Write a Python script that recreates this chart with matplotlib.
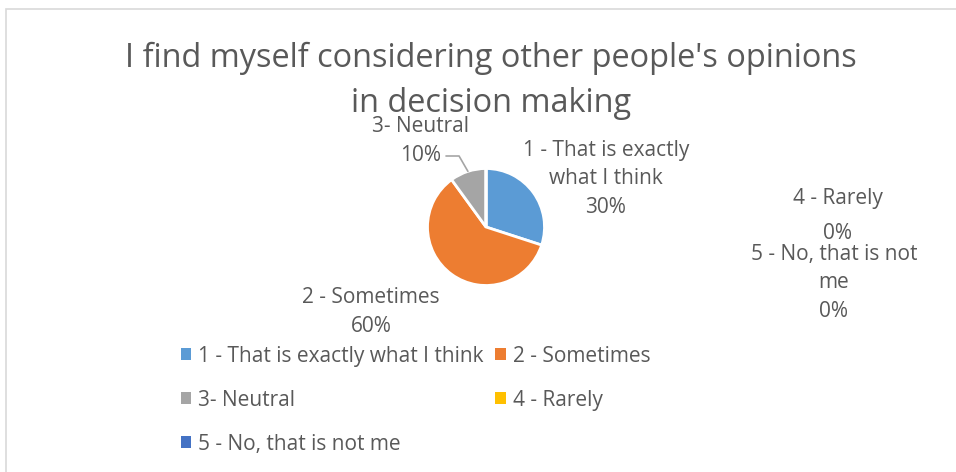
import numpy as np
import matplotlib
matplotlib.use('Agg')
import matplotlib.pyplot as plt
from matplotlib.patches import Rectangle

# Chart data
title = "I find myself considering other people's opinions\nin decision making"
categories = ['1 - That is exactly what I think', '2 - Sometimes',
              '3- Neutral', '4 - Rarely', '5 - No, that is not me']
shares = [30, 60, 10, 0, 0]
colors = ['#5B9BD5', '#ED7D31', '#A5A5A5', '#FFC000', '#4472C4']

W, H = 956, 472
text_col = '#595959'
plt.rcParams['font.family'] = ['Open Sans', 'DejaVu Sans']

fig = plt.figure(figsize=(W / 100, H / 100), dpi=100)
fig.patch.set_facecolor('white')

# chart frame (only top/left edges visible in the crop)
fig.patches.append(Rectangle((6 / W, -0.05), 1.1, (H - 9) / H + 0.05,
                             transform=fig.transFigure, fill=False,
                             edgecolor='#D9D9D9', linewidth=1.2))


def px(x, y):
    return x / W, 1 - y / H


fig.text(*px(491, 81), title, ha='center', va='center', fontsize=23.4,
         color=text_col, linespacing=1.5)

# pie
cx, cy, r = 486, 227, 58.5
ax = fig.add_axes([(cx - r) / W, (H - cy - r) / H, 2 * r / W, 2 * r / H])
wedges, _ = ax.pie(shares, colors=colors, startangle=90, counterclock=False,
                   radius=1, wedgeprops=dict(edgecolor='white', linewidth=2))
ax.set_xlim(-1, 1)
ax.set_ylim(-1, 1)
ax.set_aspect('equal')
ax.axis('off')

# data labels
lab_kw = dict(ha='center', va='center', fontsize=15, color=text_col)
fig.text(*px(606, 179), '1 - That is exactly\nwhat I think\n%d%%' % shares[0],
         linespacing=1.47, **lab_kw)
fig.text(*px(371, 312), '2 - Sometimes\n%d%%' % shares[1], linespacing=1.5, **lab_kw)
fig.text(*px(421, 141), '3- Neutral\n%d%%' % shares[2], linespacing=1.5, **lab_kw)
fig.text(*px(838, 216), '4 - Rarely\n%d%%' % shares[3], linespacing=1.85, **lab_kw)
fig.text(*px(834, 283), '5 - No, that is not\nme\n%d%%' % shares[4],
         linespacing=1.47, **lab_kw)

# leader line for the neutral slice
cum = np.cumsum([0] + shares) / sum(shares)
mid = np.deg2rad(90 - 360 * (cum[2] + cum[3]) / 2)
ax.annotate('', xy=(np.cos(mid), np.sin(mid)), xycoords='data',
            xytext=px(446, 156), textcoords='figure fraction',
            arrowprops=dict(arrowstyle='-', color='#A5A5A5', lw=1.2,
                            shrinkA=0, shrinkB=0,
                            connectionstyle='angle,angleA=0,angleB=120,rad=0'),
            annotation_clip=False)

# legend, row-wise order
order = [0, 2, 4, 1, 3]
leg = fig.legend([wedges[i] for i in order], [categories[i] for i in order],
                 ncol=2, loc='upper left', bbox_to_anchor=px(162, 327),
                 frameon=False, fontsize=15, labelcolor=text_col,
                 handlelength=0.5, handleheight=0.5, handletextpad=0.35,
                 labelspacing=1.1, columnspacing=0.55)
for h in leg.legend_handles:
    h.set_edgecolor('none')

fig.savefig('out.png', dpi=100)
